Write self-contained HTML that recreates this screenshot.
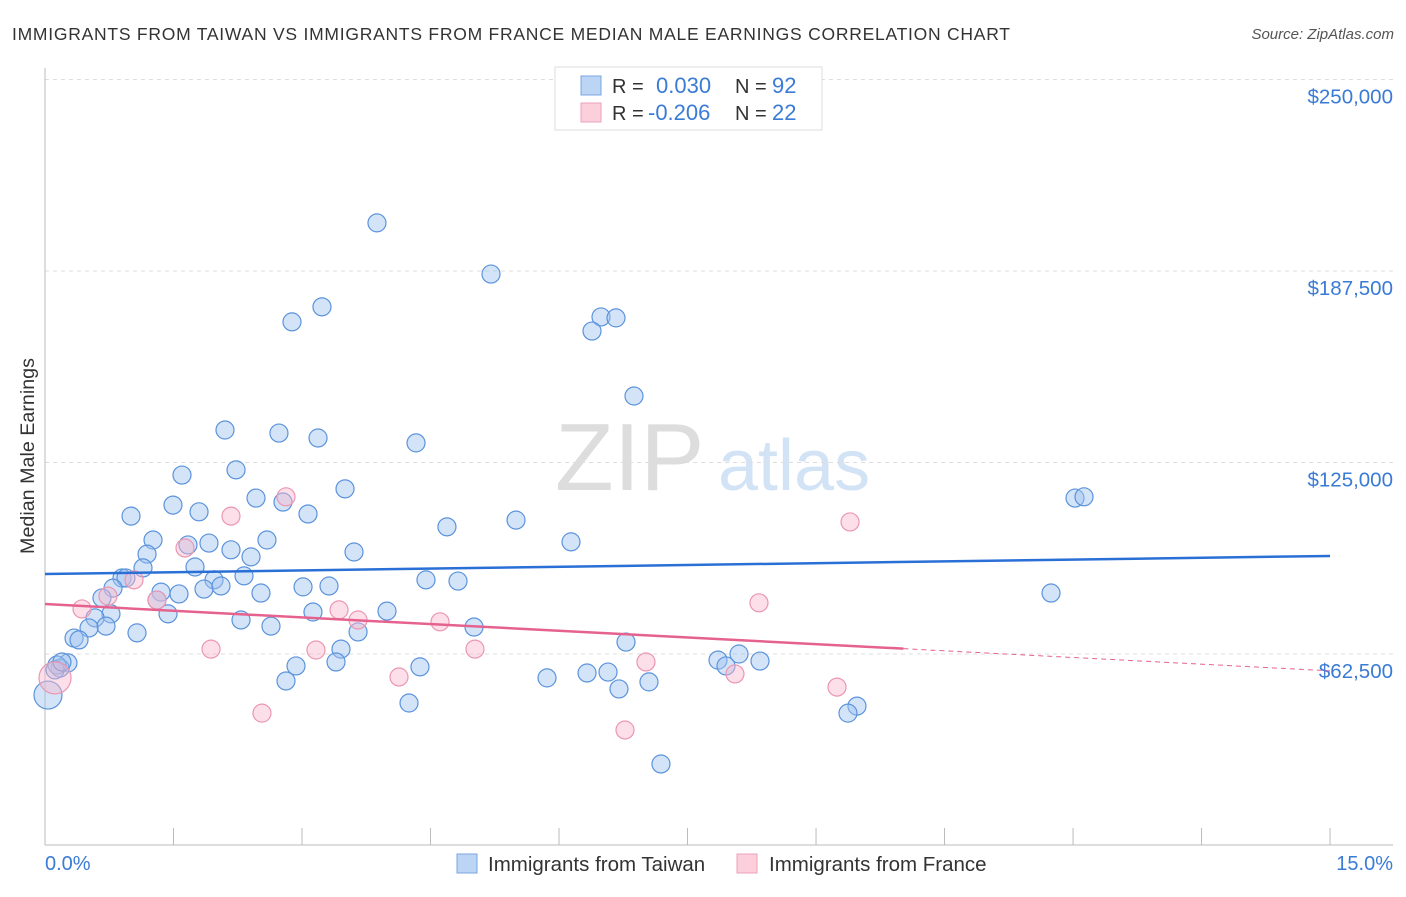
<!DOCTYPE html>
<html><head><meta charset="utf-8"><style>
body{margin:0;background:#fff;font-family:"Liberation Sans",sans-serif;}
svg text{font-family:"Liberation Sans",sans-serif;}
</style></head><body>
<svg id="chart" width="1406" height="892" xmlns="http://www.w3.org/2000/svg">
<text x="12" y="40" font-size="17.5" fill="#333" textLength="998" lengthAdjust="spacing">IMMIGRANTS FROM TAIWAN VS IMMIGRANTS FROM FRANCE MEDIAN MALE EARNINGS CORRELATION CHART</text>
<text x="1394" y="39" font-size="15" fill="#555" text-anchor="end" font-style="italic">Source: ZipAtlas.com</text>
<g>
<text x="555" y="490" font-size="96" fill="#ddd" font-family="Liberation Serif, serif">ZIP</text>
<text x="718" y="490" font-size="72" fill="#d3e3f6">atlas</text>
</g>
<text transform="translate(34,456) rotate(-90)" font-size="19.7" fill="#333" text-anchor="middle">Median Male Earnings</text>
<g id="grid"></g><g id="axes"></g><g id="marks"></g>
<g>
<rect x="555" y="67" width="267" height="63" fill="#fff" stroke="#ddd"/>
<rect x="581" y="76" width="20" height="19" fill="#bcd5f5" stroke="#7aa5e0"/>
<rect x="581" y="103" width="20" height="19" fill="#fbcfdc" stroke="#eda0b8"/>
<text x="612" y="93" font-size="20" fill="#333">R = </text><text x="656" y="93" font-size="22" fill="#3a7bd5">0.030</text>
<text x="735" y="93" font-size="20" fill="#333">N = </text><text x="772" y="93" font-size="22" fill="#3a7bd5">92</text>
<text x="612" y="120" font-size="20" fill="#333">R = </text><text x="648" y="120" font-size="22" fill="#3a7bd5">-0.206</text>
<text x="735" y="120" font-size="20" fill="#333">N = </text><text x="772" y="120" font-size="22" fill="#3a7bd5">22</text>
</g>
<g>
<rect x="457" y="854" width="20" height="19" fill="#bcd5f5" stroke="#7aa5e0"/>
<text x="488" y="871" font-size="20.5" fill="#333">Immigrants from Taiwan</text>
<rect x="737" y="854" width="20" height="19" fill="#fbcfdc" stroke="#eda0b8"/>
<text x="769" y="871" font-size="20.5" fill="#333">Immigrants from France</text>
</g>
</svg>
<script>
const yTicks=[62500,125000,187500,250000];
const yTickLabels=["$62,500","$125,000","$187,500","$250,000"];
const xTicks=[0,1.5,3,4.5,6,7.5,9,10.5,12,13.5,15];
const taiwanX=[3.875,5.206,3.233,2.883,6.49,6.665,6.385,6.875,2.101,2.731,3.187,4.331,2.23,1.599,3.502,2.463,2.778,1.494,1.004,1.798,3.07,4.692,5.498,12.023,12.128,1.261,1.669,1.914,2.591,2.171,3.607,6.14,1.191,2.405,1.144,1.751,2.323,0.899,0.945,1.973,4.447,4.821,0.794,1.354,1.564,1.856,2.054,2.521,3.012,3.315,11.743,0.665,1.307,1.436,0.77,0.584,3.992,3.128,2.288,2.638,5.008,0.712,0.514,0.339,0.397,1.074,3.654,6.782,3.455,0.268,0.175,0.14,2.93,3.397,4.377,7.856,8.101,8.346,7.949,6.327,6.572,2.813,5.86,7.05,6.7,4.249,9.478,9.373,7.19,0.035,0.117,0.198];
const taiwanY=[203200,186500,175800,170900,172500,172200,167900,146700,135600,134600,133000,131400,122600,120900,116400,113400,112100,111100,107500,108900,108200,104000,106200,113400,113800,99700,98100,98700,99700,96500,95800,99100,95100,94200,90600,90900,88000,87300,87300,86700,86700,86300,84000,82700,82100,83700,84700,82400,84400,84700,82400,80800,80100,75600,75600,74300,76500,76200,73600,71600,71300,71600,71000,67700,67100,69400,69700,66400,64100,59600,57900,58900,58600,59900,58300,60500,62500,60200,58600,56300,56600,53700,54700,53400,51100,46500,45500,43200,26600,49100,57300,59900];
const franceX=[1.634,2.171,2.813,0.432,0.735,1.039,1.307,3.432,3.654,4.611,5.019,3.163,1.938,4.132,2.533,6.77,7.015,8.054,8.334,9.397,9.245,0.117];
const franceY=[97100,107500,113800,77200,81400,86700,80100,76900,73600,73000,64100,63800,64100,55000,43200,37700,59900,56000,79200,105600,51700,54700];
const taiwanTrend=[88600,94500];
const franceTrend=[78800,57000];
const franceSolidEnd=10.02;

const NS="http://www.w3.org/2000/svg";
const X=p=>45+p*85.67;
const Y=v=>845.5-v/62500*191.5;
function mk(tag,attrs,parent){const e=document.createElementNS(NS,tag);for(const k in attrs)e.setAttribute(k,attrs[k]);document.getElementById(parent).appendChild(e);return e;}
yTicks.forEach((v,i)=>{
  const l=mk('line',{x1:45,x2:1393,y1:Y(v),y2:Y(v),stroke:'#ddd','stroke-dasharray':'4,4'},'grid');
  
  
  const t=mk('text',{x:1393,y:Y(v)+24,'font-size':20.5,fill:'#3a7bd5','text-anchor':'end'},'axes');
  t.textContent=yTickLabels[i];
  
  
});
let a=mk('line',{x1:45,x2:45,y1:68,y2:845,stroke:'#bbb'},'axes');


a=mk('line',{x1:45,x2:1393,y1:845,y2:845,stroke:'#bbb'},'axes');


xTicks.forEach(p=>{
  const t=mk('line',{x1:X(p),x2:X(p),y1:828,y2:845,stroke:'#bbb'},'axes');
  
  
});
let xl=mk('text',{x:45,y:870,'font-size':20,fill:'#3a7bd5'},'axes');xl.textContent=xTicks[0].toFixed(1)+'%';


xl=mk('text',{x:1393,y:870,'font-size':20,fill:'#3a7bd5','text-anchor':'end'},'axes');xl.textContent=xTicks[xTicks.length-1].toFixed(1)+'%';


taiwanX.forEach((x,i)=>{
  const big=x<0.05;
  const c=mk('circle',{cx:X(x),cy:Y(taiwanY[i]),r:big?14:9,fill:'rgba(160,195,240,0.45)',stroke:'#5b93dc','stroke-width':1.2},'marks');
  
  
});
franceX.forEach((x,i)=>{
  const big=i===franceX.length-1;
  const c=mk('circle',{cx:X(x),cy:Y(franceY[i]),r:big?16:9,fill:'rgba(248,185,205,0.45)',stroke:'#eb97b2','stroke-width':1.2},'marks');
  
  
});
let tl=mk('line',{x1:X(0),y1:Y(taiwanTrend[0]),x2:X(15),y2:Y(taiwanTrend[1]),stroke:'#2a6fd6','stroke-width':2.5},'marks');


const fm=franceTrend[0]+(franceTrend[1]-franceTrend[0])*franceSolidEnd/15;
tl=mk('line',{x1:X(0),y1:Y(franceTrend[0]),x2:X(franceSolidEnd),y2:Y(fm),stroke:'#e5628f','stroke-width':2.5},'marks');


tl=mk('line',{x1:X(franceSolidEnd),y1:Y(fm),x2:X(15),y2:Y(franceTrend[1]),stroke:'#e5628f','stroke-width':1,'stroke-dasharray':'5,4'},'marks');


</script>
</body></html>
